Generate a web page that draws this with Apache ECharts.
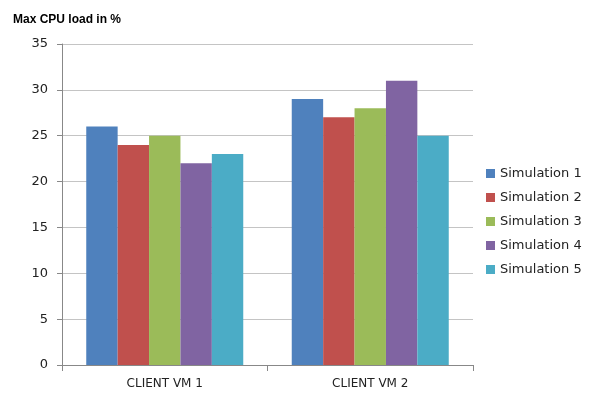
<!DOCTYPE html>
<html>
<head>
<meta charset="utf-8">
<script src="https://cdn.jsdelivr.net/npm/echarts@6/dist/echarts.min.js"></script>
<style>
  html, body { margin: 0; padding: 0; background: #fff; }
  #main { width: 592px; height: 398px; }
</style>
</head>
<body>
<div id="main"></div>
<script>
var categories = ['CLIENT VM 1', 'CLIENT VM 2'];
var seriesNames = ['Simulation 1', 'Simulation 2', 'Simulation 3', 'Simulation 4', 'Simulation 5'];
var sim1 = [26, 29];
var sim2 = [24, 27];
var sim3 = [25, 28];
var sim4 = [22, 31];
var sim5 = [23, 25];
var yTicks = [0, 5, 10, 15, 20, 25, 30, 35];

var colors = ['#4f81bd', '#c0504d', '#9bbb59', '#8064a2', '#4bacc6'];
var values = [sim1, sim2, sim3, sim4, sim5];

var myChart = echarts.init(document.getElementById('main'), null, { renderer: 'canvas' });

var series = seriesNames.map(function (name, i) {
  return {
    name: name,
    type: 'bar',
    data: values[i],
    barGap: '0%',
    barCategoryGap: '23.6%',
    itemStyle: { color: colors[i] }
  };
});

var option = {
  animation: false,
  title: {
    text: 'Max CPU load in %',
    left: 8,
    top: 9,
    textStyle: { fontFamily: 'Liberation Sans', fontSize: 12, fontWeight: 'bold', color: '#000' }
  },
  legend: {
    orient: 'vertical',
    left: 481,
    top: 162,
    itemWidth: 9,
    itemHeight: 9,
    itemGap: 11,
    icon: 'rect',
    data: seriesNames,
    textStyle: { fontFamily: 'DejaVu Sans', fontSize: 13, color: '#222' }
  },
  grid: { left: 62, right: 119, top: 44, bottom: 33 },
  xAxis: {
    type: 'category',
    data: categories,
    axisLine: { lineStyle: { color: '#888' } },
    axisTick: { show: true, length: 6, lineStyle: { color: '#888' } },
    axisLabel: { fontFamily: 'DejaVu Sans', fontSize: 12, color: '#222', margin: 13 }
  },
  yAxis: {
    type: 'value',
    min: yTicks[0],
    max: yTicks[yTicks.length - 1],
    interval: 5,
    axisLine: { show: true, lineStyle: { color: '#888' } },
    axisTick: { show: true, length: 5, lineStyle: { color: '#888' } },
    splitLine: { lineStyle: { color: '#c4c4c4' } },
    axisLabel: { fontFamily: 'DejaVu Sans', fontSize: 13, color: '#222', margin: 14 }
  },
  series: series
};

myChart.setOption(option);
</script>
</body>
</html>
